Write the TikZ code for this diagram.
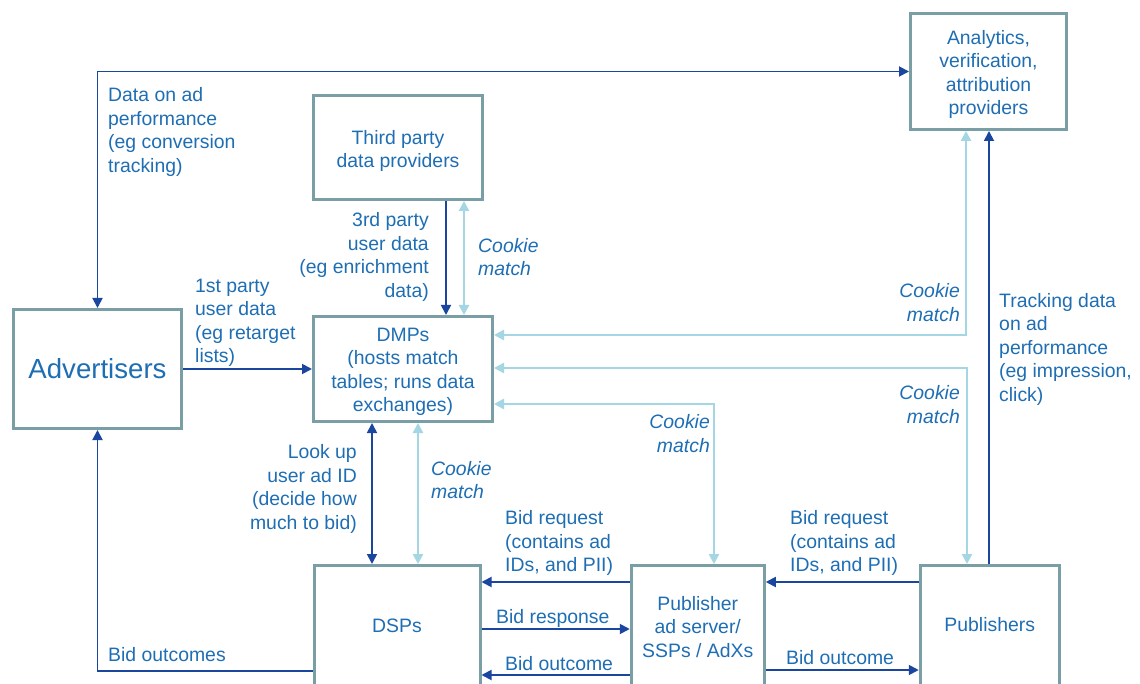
\documentclass[tikz,border=0pt]{standalone}
\usepackage{fontspec}
\setmainfont{Liberation Sans}
\usetikzlibrary{arrows.meta}
\definecolor{txt}{RGB}{30,110,180}
\definecolor{dk}{RGB}{26,70,160}
\definecolor{lt}{RGB}{165,214,228}
\definecolor{bd}{RGB}{122,158,166}
\tikzset{
  box/.style={draw=bd, line width=3pt, fill=white, rectangle, inner sep=0pt, text=txt, align=center,
    font=\fontsize{19.4}{23.5}\selectfont},
  lbl/.style={inner sep=0pt, text=txt, font=\fontsize{19.4}{23.5}\selectfont},
  ilbl/.style={lbl, font=\fontsize{19.4}{23.5}\selectfont\itshape},
  dkl/.style={draw=dk, line width=1.8pt, arrows={-Triangle[length=10pt,width=10pt]}},
  ltl/.style={draw=lt, line width=2.4pt, arrows={-Triangle[length=10pt,width=10pt]}},
  both/.style={arrows={Triangle[length=10pt,width=10pt]-Triangle[length=10pt,width=10pt]}},
}
\begin{document}
\begin{tikzpicture}[x=1pt,y=-1pt]
\useasboundingbox (0,0) rectangle (1140,684);
\clip (0,0) rectangle (1140,684);
\fill[white] (0,0) rectangle (1140,684);
% boxes
\node[box, minimum width=168pt, minimum height=119pt] (adv) at (97.5,369) {};
\node[box, minimum width=169pt, minimum height=104pt] (tpd) at (398,147.5) {};
\node[box, minimum width=179pt, minimum height=105pt] (dmp) at (403,369) {};
\node[box, minimum width=156pt, minimum height=116pt] (ana) at (988.5,71.5) {};
\node[box, minimum width=166pt, minimum height=150pt] (dsp) at (397,640.5) {};
\node[box, minimum width=133pt, minimum height=150pt] (pas) at (697.75,640.5) {};
\node[box, minimum width=139pt, minimum height=150pt] (pub) at (989.75,640.5) {};
\node[lbl, font=\fontsize{27.6}{32}\selectfont] (advt) at (97.5,369) {Advertisers};
\node[lbl, align=center] (tpdt) at (398,151) {Third party\\data providers};
\node[lbl, align=center] (dmpt) at (403,372) {DMPs\\(hosts match\\tables; runs data\\exchanges)};
\node[lbl, align=center] (anat) at (988.5,74.5) {Analytics,\\verification,\\attribution\\providers};
\node[lbl, align=center] (dspt) at (397,626) {DSPs};
\node[lbl, align=center] (past) at (697.75,627) {Publisher\\ad server/\\SSPs / AdXs};
\node[lbl, align=center] (pubt) at (989.75,625) {Publishers};
% connectors
\draw[dkl, both] (adv.north) |- (ana.west);
\draw[dkl] (dsp.west |- 0,671) -| (adv.south);
\draw[dkl] (adv.east) -- (dmp.west);
\draw[dkl] (tpd.south -| 446,0) -- (dmp.north -| 446,0);
\draw[ltl, both] (tpd.south -| 464,0) -- (dmp.north -| 464,0);
\draw[dkl, both] (dmp.south -| 372,0) -- (dsp.north -| 372,0);
\draw[ltl, both] (dmp.south -| 418,0) -- (dsp.north -| 418,0);
\draw[ltl, both] (dmp.east |- 0,335) -| (ana.south -| 966,0);
\draw[ltl, both] (dmp.east |- 0,368) -| (pub.north -| 967,0);
\draw[ltl, both] (dmp.east |- 0,404) -| (pas.north -| 714,0);
\draw[dkl] (pub.north -| 989,0) -- (ana.south -| 989,0);
\draw[dkl] (pub.west |- 0,582) -- (pas.east |- 0,582);
\draw[dkl] (pas.west |- 0,582) -- (dsp.east |- 0,582);
\draw[dkl] (dsp.east |- 0,629) -- (pas.west |- 0,629);
\draw[dkl] (pas.west |- 0,675) -- (dsp.east |- 0,675);
\draw[dkl] (pas.east |- 0,670) -- (pub.west |- 0,670);
% labels
\node[lbl, align=left, anchor=west] (l1) at (108,132) {Data on ad\\performance\\(eg conversion\\tracking)};
\node[lbl, align=left, anchor=west] (l2) at (195,323) {1st party\\user data\\(eg retarget\\lists)};
\node[lbl, align=right, anchor=east] (l3) at (429,257) {3rd party\\user data\\(eg enrichment\\data)};
\node[ilbl, align=left, anchor=west] (c1) at (478,257) {Cookie\\match};
\node[ilbl, align=right, anchor=east] (c2) at (960,302.5) {Cookie\\match};
\node[ilbl, align=right, anchor=east] (c3) at (960,404.5) {Cookie\\match};
\node[lbl, align=left, anchor=west] (l4) at (999,349) {Tracking data\\on ad\\performance\\(eg impression,\\click)};
\node[ilbl, align=right, anchor=east] (c4) at (710,433.5) {Cookie\\match};
\node[lbl, align=right, anchor=east] (l5) at (357,489) {Look up\\user ad ID\\(decide how\\much to bid)};
\node[ilbl, align=left, anchor=west] (c5) at (431,480) {Cookie\\match};
\node[lbl, align=left, anchor=west] (l6) at (505,543) {Bid request\\(contains ad\\IDs, and PII)};
\node[lbl, align=left, anchor=west] (l7) at (790,543) {Bid request\\(contains ad\\IDs, and PII)};
\node[lbl, anchor=west] (l8) at (496,618) {Bid response};
\node[lbl, anchor=west] (l9) at (505,664) {Bid outcome};
\node[lbl, anchor=west] (l10) at (786,658) {Bid outcome};
\node[lbl, anchor=west] (l11) at (108,655) {Bid outcomes};
\end{tikzpicture}
\end{document}
